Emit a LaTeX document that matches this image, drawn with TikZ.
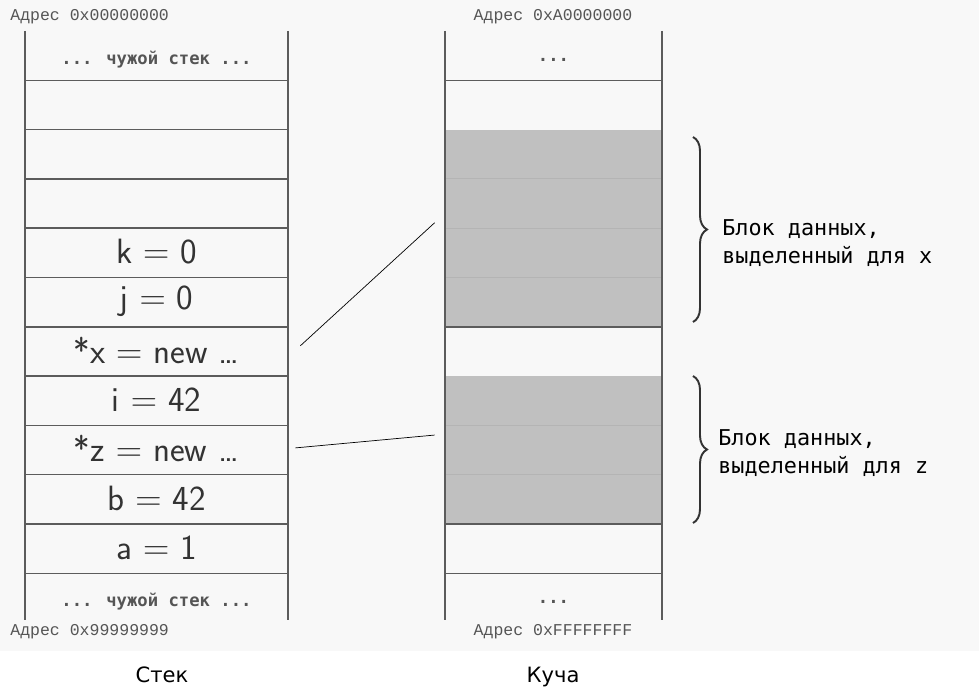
\documentclass[tikz,border=0pt]{standalone}
\usepackage{fontspec}
\usetikzlibrary{decorations.pathreplacing}
\newfontfamily\addrfont{Liberation Mono}
\newfontfamily\dotsfont{DejaVu Sans Mono}
\newfontfamily\capfont{DejaVu Sans}
\definecolor{bgpage}{HTML}{F8F8F8}
\definecolor{gridline}{HTML}{5C5C5C}
\definecolor{celltext}{HTML}{333333}
\definecolor{heapfill}{HTML}{C0C0C0}
\definecolor{heapline}{HTML}{B4B4B4}
\definecolor{addrtext}{HTML}{555555}

\tikzset{
  gridln/.style={draw=gridline, line width=0.8pt},
  cell/.style={text=celltext, font=\sffamily\fontsize{20}{24}\selectfont,
    minimum width=5.26cm, minimum height=0.986cm, inner sep=0pt},
  other/.style={font=\dotsfont\bfseries\fontsize{9.8}{12}\selectfont, text=addrtext},
  addr/.style={font=\addrfont\fontsize{9.4}{11}\selectfont, text=addrtext, inner sep=0pt},
  block/.style={fill=heapfill, minimum width=4.34cm, inner sep=0pt},
  link/.style={draw=black, line width=0.4pt},
  blockbrace/.style={decorate, decoration={brace, amplitude=0.28cm},
    draw=black!80, line width=1.1pt},
  note/.style={font=\dotsfont\fontsize{12.4}{16}\selectfont, align=left,
    anchor=west, inner sep=0pt},
  caption/.style={font=\capfont\fontsize{12}{14}\selectfont}
}

\begin{document}
\begin{tikzpicture}[x=0.02cm, y=-0.02cm]
    \fill[bgpage] (0,0) rectangle (979,651);
    \useasboundingbox (0,0) rectangle (979,699);
    % stack
    \node[cell, other] (s0) at (156.5,59.5) {... чужой стек ...};
    \foreach \t [count=\i] in {{}, {}, {}, {k $=$ 0}, {j $=$ 0}, {*x $=$ new \dots},
        {i $=$ 42}, {*z $=$ new \dots}, {b $=$ 42}, {a $=$ 1}}
      \node[cell] (s\i) at (156.5,{54.5+49.3*\i}) {\t};
    \node[cell, other] (s11) at (156.5,601.5) {... чужой стек ...};
    \foreach \k in {1,...,11}
      \draw[gridln] (25,{31+49.3*\k}) -- (288,{31+49.3*\k});
    \draw[gridln] (25,31) -- (25,620) (288,31) -- (288,620);
    % heap
    \node[block, minimum height=3.944cm] (hx) at (553.5,228.2) {};
    \node[block, minimum height=2.958cm] (hz) at (553.5,450.05) {};
    \foreach \k in {3,4,5,8,9}
      \draw[heapline, line width=0.6pt] (445,{31+49.3*\k}) -- (662,{31+49.3*\k});
    \foreach \k in {1,6,10,11}
      \draw[gridln] (445,{31+49.3*\k}) -- (662,{31+49.3*\k});
    \draw[gridln] (445,31) -- (445,620) (662,31) -- (662,620);
    \node[other] (h0) at (553.5,59.5) {...};
    \node[other] (h11) at (553.5,601.5) {...};
    % addresses
    \node[addr, anchor=west] (a0) at (10,17) {Адрес 0x00000000};
    \node[addr, anchor=west] (a1) at (10,632) {Адрес 0x99999999};
    \node[addr] (a2) at (553,17) {Адрес 0xA0000000};
    \node[addr] (a3) at (553,632) {Адрес 0xFFFFFFFF};
    % pointers
    \draw[link] ([shift={(12,-4.5)}]s6.east) -- ([shift={(-10,-5.5)}]hx.west);
    \draw[link] ([shift={(7,-1)}]s8.east) -- ([shift={(-10,-15)}]hz.west);
    % braces
    \draw[blockbrace] (693,137) -- (693,322);
    \draw[blockbrace] (693,376) -- (693,523);
    \node[note] (nx) at (722,243) {Блок данных,\\выделенный для x};
    \node[note] (nz) at (718,453) {Блок данных,\\выделенный для z};
    \node[caption] (cs) at (162,675) {Стек};
    \node[caption] (ch) at (553,677) {Куча};
\end{tikzpicture}
\end{document}
